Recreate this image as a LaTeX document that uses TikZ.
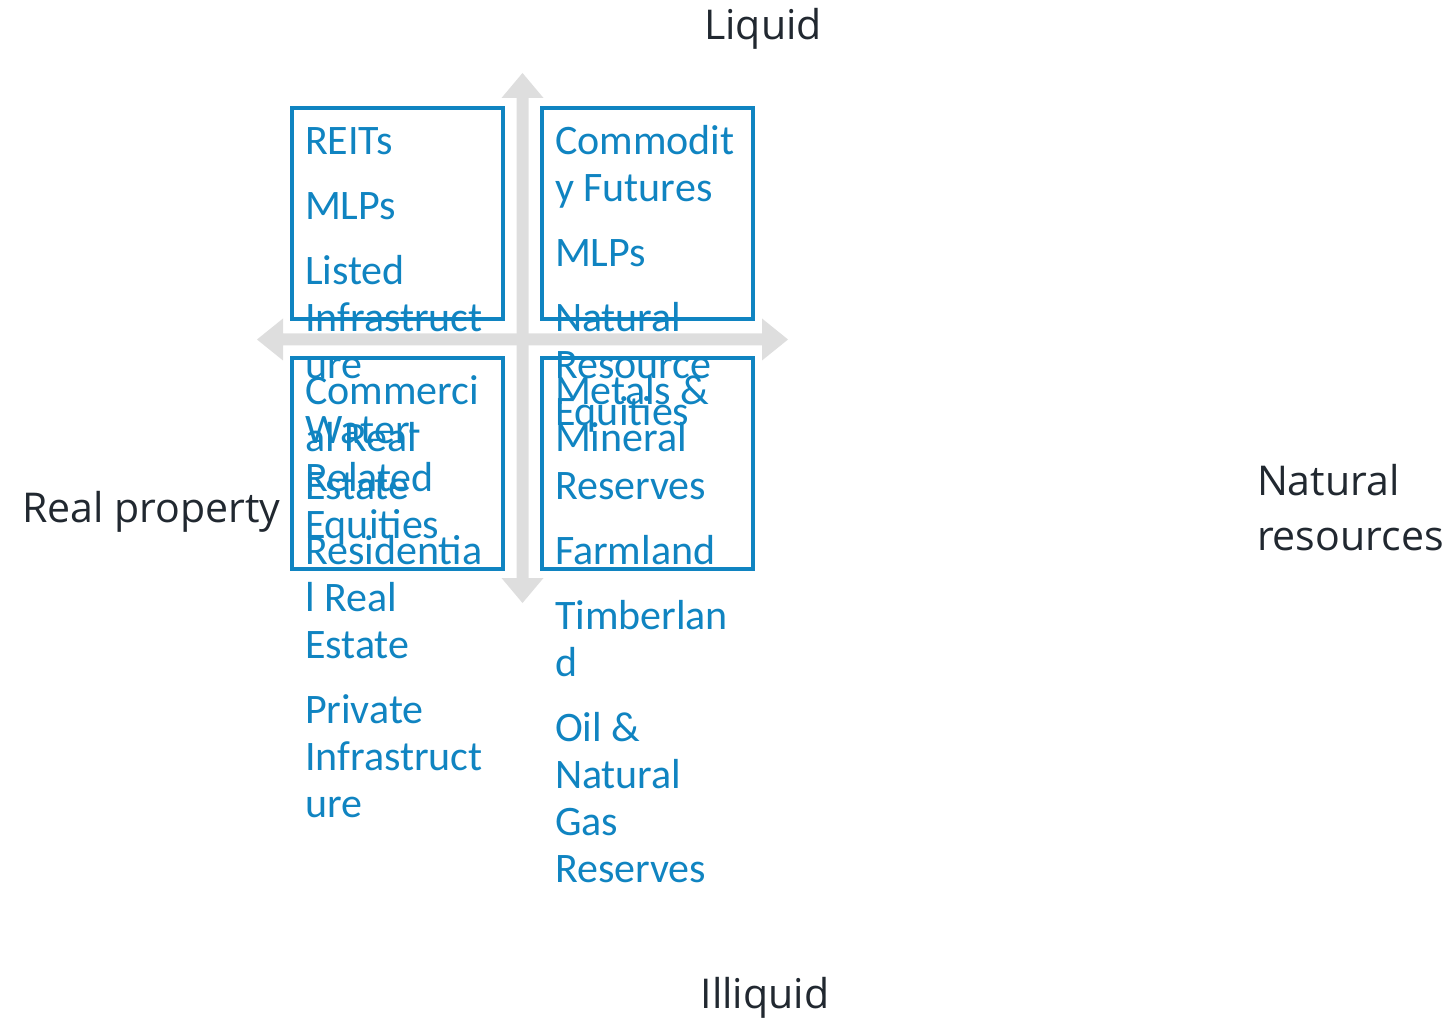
\documentclass[tikz,border=0pt]{standalone}
\usepackage{fontspec}
\setmainfont{Carlito}
\newfontfamily\labfont{Open Sans}
\definecolor{qblue}{RGB}{16,132,193}
\definecolor{qgray}{RGB}{222,222,222}
\definecolor{qdark}{RGB}{33,40,48}
\begin{document}
\begin{tikzpicture}[x=0.75pt,y=-0.75pt,
  qbox/.style={draw=qblue,line width=2.6pt},
  item/.style={anchor=base west,inner sep=0pt,outer sep=0pt,text=qblue,font=\fontsize{31.5}{35}\selectfont},
  axlab/.style={inner sep=0pt,outer sep=0pt,text=qdark,font=\labfont\fontsize{30.8}{40}\selectfont},
  axarrow/.style={fill=qgray}]
\useasboundingbox (0,0) rectangle (1452,1019);
% axes
\fill[axarrow] (522.5,73) -- (543.5,98) -- (528.5,98) -- (528.5,578) -- (543.5,578) -- (522.5,603) -- (501.5,578) -- (516.5,578) -- (516.5,98) -- (501.5,98) -- cycle;
\fill[axarrow] (257,339.5) -- (283,318.5) -- (283,333.5) -- (762,333.5) -- (762,318.5) -- (788,339.5) -- (762,360.5) -- (762,345.5) -- (283,345.5) -- (283,360.5) -- cycle;
% boxes
\draw[qbox] (292,108) rectangle (503,319);
\draw[qbox] (542,108) rectangle (753,319);
\draw[qbox] (292,358) rectangle (503,569);
\draw[qbox] (542,358) rectangle (753,569);
% axis labels
\node[axlab,anchor=base] (liq) at (763,40) {Liquid};
\node[axlab,anchor=base] (illiq) at (765,1008) {Illiquid};
\node[axlab,anchor=base west] (realp) at (22,522) {Real property};
\node[axlab,anchor=base west] (natr1) at (1257,495) {Natural};
\node[axlab,anchor=base west] (natr2) at (1257,550) {resources};
% top-left text
\node[item] (tl1) at (305,155) {REITs};
\node[item] (tl2) at (305,220) {MLPs};
\node[item] (tl3) at (305,285) {Listed};
\node[item] (tl4) at (305,332) {Infrastruct};
\node[item] (tl5) at (305,379) {ure};
\node[item] (tl6) at (305,444) {Water-};
\node[item] (tl7) at (305,491) {Related};
\node[item] (tl8) at (305,538) {Equities};
% top-right text
\node[item] (tr1) at (555,155) {Commodit};
\node[item] (tr2) at (555,202) {y Futures};
\node[item] (tr3) at (555,267) {MLPs};
\node[item] (tr4) at (555,332) {Natural};
\node[item] (tr5) at (555,379) {Resource};
\node[item] (tr6) at (555,426) {Equities};
% bottom-left text
\node[item] (bl1) at (305,405) {Commerci};
\node[item] (bl2) at (305,452) {al Real};
\node[item] (bl3) at (305,499) {Estate};
\node[item] (bl4) at (305,564) {Residentia};
\node[item] (bl5) at (305,611) {l Real};
\node[item] (bl6) at (305,658) {Estate};
\node[item] (bl7) at (305,723) {Private};
\node[item] (bl8) at (305,770) {Infrastruct};
\node[item] (bl9) at (305,817) {ure};
% bottom-right text
\node[item] (br1) at (555,405) {Metals \&};
\node[item] (br2) at (555,452) {Mineral};
\node[item] (br3) at (555,499) {Reserves};
\node[item] (br4) at (555,564) {Farmland};
\node[item] (br5) at (555,629) {Timberlan};
\node[item] (br6) at (555,676) {d};
\node[item] (br7) at (555,741) {Oil \&};
\node[item] (br8) at (555,788) {Natural};
\node[item] (br9) at (555,835) {Gas};
\node[item] (br10) at (555,882) {Reserves};
\end{tikzpicture}
\end{document}
